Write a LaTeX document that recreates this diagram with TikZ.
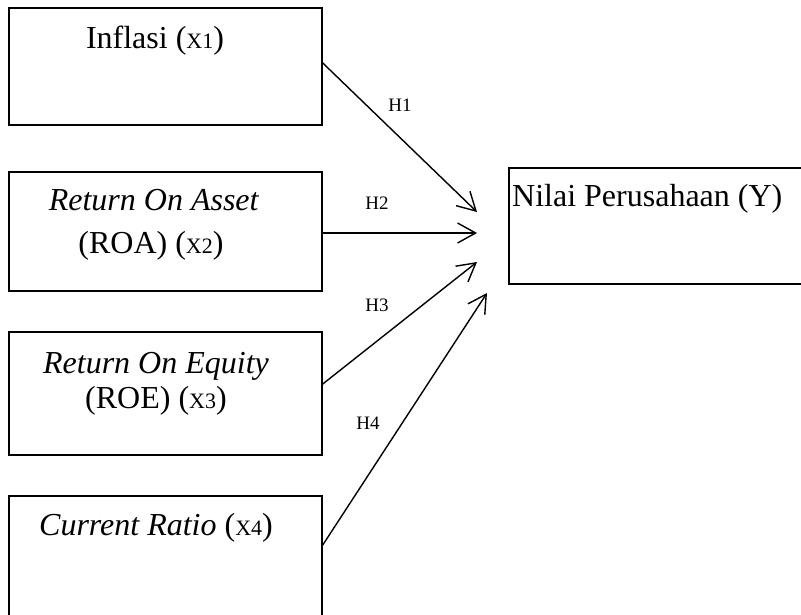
\documentclass[tikz,border=0pt]{standalone}
\usepackage{fontspec}
\setmainfont{Liberation Serif}
\usetikzlibrary{arrows.meta}
\tikzset{
  box/.style={draw=black, line width=1.5pt, rectangle, inner sep=0pt, minimum width=313pt},
  lbl/.style={anchor=base, inner sep=0pt, font=\fontsize{32}{36}\selectfont},
  hlbl/.style={anchor=base, inner sep=0pt, font=\fontsize{19}{22}\selectfont},
  conn/.style={line width=1.4pt, -{Straight Barb[length=18pt,width=20pt,line width=1.4pt]}}
}
\newcommand{\smx}[1]{{\fontsize{22}{24}\selectfont X#1}}
\begin{document}
\begin{tikzpicture}[x=1pt,y=-1pt]
\useasboundingbox (0,0) rectangle (801,615);
\clip (0,0) rectangle (801,615);
\fill[white] (0,0) rectangle (801,615);
% boxes
\node[box, minimum height=117pt] (b1) at (165.5,66.5) {};
\node[box, minimum height=119pt] (b2) at (165.5,231.5) {};
\node[box, minimum height=123pt] (b3) at (165.5,393.5) {};
\node[box, minimum height=130pt] (b4) at (165.5,561) {};
\node[box, minimum width=306pt, minimum height=116pt] (by) at (662,226) {};
% texts
\node[lbl] (t1) at (155,49) {Inflasi (\smx{1})};
\node[lbl] (t2a) at (154,211) {\textit{Return On Asset}};
\node[lbl] (t2b) at (151,253) {(ROA) (\smx{2})};
\node[lbl] (t3a) at (156,373) {\textit{Return On Equity}};
\node[lbl] (t3b) at (156,408) {(ROE) (\smx{3})};
\node[lbl] (t4) at (156,535) {\textit{Current Ratio} (\smx{4})};
\node[lbl, anchor=base west] (ty) at (512,207) {Nilai Perusahaan (Y)};
% arrow ends
\coordinate (e1) at (477,212);
\coordinate (e2) at (477,233);
\coordinate (e3) at (477,262);
\coordinate (e4) at (487,293);
\draw[conn] ([yshift=3.5pt]b1.east) -- (e1);
\draw[conn] ([yshift=-1.5pt]b2.east) -- (e2);
\draw[conn] ([yshift=9.5pt]b3.east) -- (e3);
\draw[conn] ([yshift=16pt]b4.east) -- (e4);
% hypothesis labels
\node[hlbl] (h1) at (400,112) {H1};
\node[hlbl] (h2) at (377,210) {H2};
\node[hlbl] (h3) at (377,311) {H3};
\node[hlbl] (h4) at (368,429) {H4};
\end{tikzpicture}
\end{document}
